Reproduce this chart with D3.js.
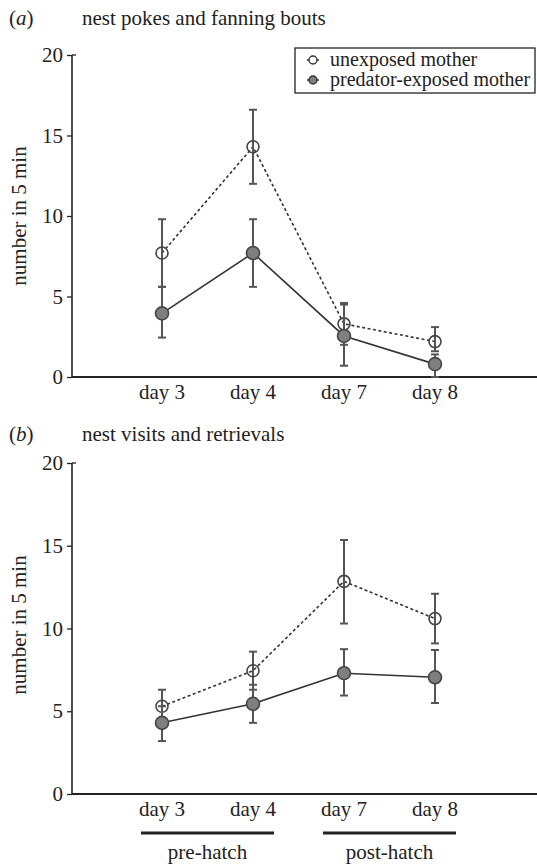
<!DOCTYPE html>
<html>
<head>
<meta charset="utf-8">
<script src="https://cdn.jsdelivr.net/npm/d3@7"></script>
<style>
    body { margin: 0; background: #fff; }
</style>
</head>
<body>
<svg id="chart"></svg>
<script>
// categories
const days = ["day 3", "day 4", "day 7", "day 8"];
const yTicks = [0, 5, 10, 15, 20];
const seriesNames = ["unexposed mother", "predator-exposed mother"];

// (a) nest pokes and fanning bouts
const pokesUnexposed = [7.7, 14.3, 3.3, 2.2];
const pokesUnexposedLo = [5.6, 12.0, 2.0, 1.6];
const pokesUnexposedHi = [9.8, 16.6, 4.6, 3.1];
const pokesExposed = [3.95, 7.7, 2.55, 0.8];
const pokesExposedLo = [2.45, 5.6, 0.7, 0];
const pokesExposedHi = [5.6, 9.8, 4.5, 1.4];

// (b) nest visits and retrievals
const visitsUnexposed = [5.3, 7.45, 12.85, 10.6];
const visitsUnexposedLo = [4.3, 6.3, 10.3, 9.1];
const visitsUnexposedHi = [6.3, 8.6, 15.35, 12.1];
const visitsExposed = [4.3, 5.45, 7.3, 7.05];
const visitsExposedLo = [3.2, 4.3, 5.95, 5.5];
const visitsExposedHi = [5.3, 6.6, 8.75, 8.7];

const phases = [
    { name: "pre-hatch", from: "day 3", to: "day 4" },
    { name: "post-hatch", from: "day 7", to: "day 8" }
];

const width = 537;
const height = 865;

const svg = d3.select('#chart')
    .attr('width', width)
    .attr('height', height);

const axisLeft = 72;
const axisRight = 537;
const x = d3.scalePoint().domain(days).range([162, 435]);

const lineColor = '#333';
const errColor = '#555';
const fillExposed = '#7f7f7f';

function setFont(sel, size) {
    return sel
        .attr('font-family', 'Liberation Serif')
        .attr('font-size', size)
        .style('font', size + 'px Times New Roman');
}

function addText(sel, size) {
    return setFont(sel.append('text').attr('fill', '#222'), size || 21);
}

function panel(opts) {
    const g = svg.append('g');
    const y = d3.scaleLinear().domain([0, 20]).range([opts.bottom, opts.top]);

    // letter + title
    const lt = addText(g).attr('x', 9).attr('y', opts.titleY);
    lt.append('tspan').text('(');
    lt.append('tspan').style('font-style', 'italic').text(opts.letter);
    lt.append('tspan').text(')');
    addText(g)
        .attr('x', 82).attr('y', opts.titleY)
        .text(opts.title);

    // y axis
    const ya = g.append('g')
        .attr('transform', 'translate(' + axisLeft + ',0)')
        .call(d3.axisLeft(y).tickValues(yTicks).tickSize(5).tickPadding(4));
    ya.select('.domain').remove();
    ya.selectAll('.tick line').attr('stroke', '#222').attr('stroke-width', 1.3);
    setFont(ya.selectAll('.tick text'), 21).attr('fill', '#222');
    g.append('line')
        .attr('x1', axisLeft).attr('x2', axisLeft)
        .attr('y1', y(20)).attr('y2', y(0))
        .attr('stroke', '#222').attr('stroke-width', 1.6);
    g.append('line')
        .attr('x1', axisLeft).attr('x2', axisLeft + 4)
        .attr('y1', y(20)).attr('y2', y(20))
        .attr('stroke', '#222').attr('stroke-width', 1.3);

    // x axis line
    g.append('line')
        .attr('x1', axisLeft).attr('x2', axisRight)
        .attr('y1', y(0)).attr('y2', y(0))
        .attr('stroke', '#222').attr('stroke-width', 2);

    // y label
    addText(g)
        .attr('transform', 'translate(26,' + opts.labelY + ') rotate(-90)')
        .attr('text-anchor', 'middle')
        .text('number in 5 min');

    // x labels
    days.forEach(function (d) {
        addText(g)
            .attr('x', x(d))
            .attr('y', y(0) + 22)
            .attr('text-anchor', 'middle')
            .text(d);
    });

    const series = [
        { mean: opts.unexposed, lo: opts.unexposedLo, hi: opts.unexposedHi, fill: 'none', dash: '3,2.5', r: 6 },
        { mean: opts.exposed, lo: opts.exposedLo, hi: opts.exposedHi, fill: fillExposed, dash: null, r: 6.5 }
    ];

    const line = d3.line()
        .x(function (d) { return x(d.day); })
        .y(function (d) { return y(d.v); });

    series.forEach(function (s) {
        const pts = days.map(function (d, i) {
            return { day: d, v: s.mean[i], lo: s.lo[i], hi: s.hi[i] };
        });

        g.append('path')
            .datum(pts)
            .attr('d', line)
            .attr('fill', 'none')
            .attr('stroke', lineColor)
            .attr('stroke-width', 1.6)
            .attr('stroke-dasharray', s.dash);

        const eb = g.append('g');
        eb.selectAll('line.v')
            .data(pts).enter().append('line')
            .attr('x1', function (d) { return x(d.day); })
            .attr('x2', function (d) { return x(d.day); })
            .attr('y1', function (d) { return y(d.lo); })
            .attr('y2', function (d) { return y(d.hi); })
            .attr('stroke', errColor).attr('stroke-width', 2);
        ['lo', 'hi'].forEach(function (k) {
            eb.selectAll('line.' + k)
                .data(pts).enter().append('line')
                .attr('x1', function (d) { return x(d.day) - 4; })
                .attr('x2', function (d) { return x(d.day) + 4; })
                .attr('y1', function (d) { return y(d[k]); })
                .attr('y2', function (d) { return y(d[k]); })
                .attr('stroke', errColor).attr('stroke-width', 2);
        });

        g.selectAll(null)
            .data(pts).enter().append('circle')
            .attr('cx', function (d) { return x(d.day); })
            .attr('cy', function (d) { return y(d.v); })
            .attr('r', s.r)
            .attr('fill', s.fill)
            .attr('stroke', '#444')
            .attr('stroke-width', 1.6);
    });

    return y;
}

panel({
    letter: 'a', title: 'nest pokes and fanning bouts', titleY: 25,
    top: 55, bottom: 377, labelY: 216,
    unexposed: pokesUnexposed, unexposedLo: pokesUnexposedLo, unexposedHi: pokesUnexposedHi,
    exposed: pokesExposed, exposedLo: pokesExposedLo, exposedHi: pokesExposedHi
});

panel({
    letter: 'b', title: 'nest visits and retrievals', titleY: 441,
    top: 463, bottom: 794, labelY: 625,
    unexposed: visitsUnexposed, unexposedLo: visitsUnexposedLo, unexposedHi: visitsUnexposedHi,
    exposed: visitsExposed, exposedLo: visitsExposedLo, exposedHi: visitsExposedHi
});

// phase underlines and labels
phases.forEach(function (p) {
    const x1 = x(p.from) - 21;
    const x2 = x(p.to) + 21;
    svg.append('line')
        .attr('x1', x1).attr('x2', x2)
        .attr('y1', 833).attr('y2', 833)
        .attr('stroke', '#222').attr('stroke-width', 3);
    addText(svg)
        .attr('x', (x1 + x2) / 2).attr('y', 859)
        .attr('text-anchor', 'middle')
        .text(p.name);
});

// legend
const legend = svg.append('g').attr('transform', 'translate(295,48)');
legend.append('rect')
    .attr('width', 240).attr('height', 45)
    .attr('fill', '#fff').attr('stroke', '#222').attr('stroke-width', 1.3);
const legendFill = ['#fff', fillExposed];
seriesNames.forEach(function (n, i) {
    const row = legend.append('g').attr('transform', 'translate(0,' + (12 + i * 20) + ')');
    row.append('line')
        .attr('x1', 12).attr('x2', 24)
        .attr('stroke', '#333').attr('stroke-width', 1.5);
    row.append('circle')
        .attr('cx', 18).attr('r', 4)
        .attr('fill', legendFill[i]).attr('stroke', '#333').attr('stroke-width', 1.4);
    addText(row, 20)
        .attr('x', 35).attr('y', 6)
        .text(n);
});
</script>
</body>
</html>
